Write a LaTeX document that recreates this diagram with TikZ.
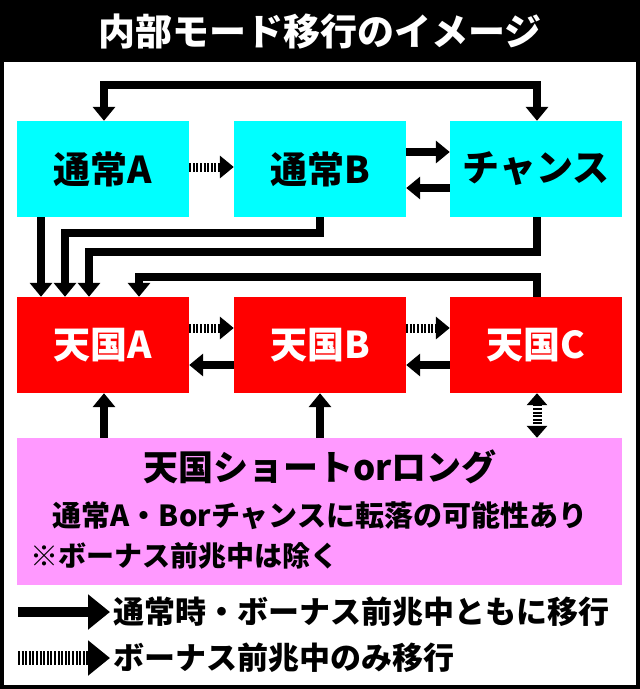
\documentclass[tikz,border=0pt]{standalone}
\usepackage{fontspec}
\setmainfont{Noto Sans CJK JP}[BoldFont={Noto Sans CJK JP Black}]
\usetikzlibrary{arrows.meta}
\definecolor{cyb}{RGB}{0,255,255}
\definecolor{rdb}{RGB}{255,0,0}
\definecolor{pkb}{RGB}{255,153,255}
\begin{document}
\begin{tikzpicture}[x=1pt,y=-1pt,
  box/.style={minimum width=172pt,minimum height=96pt,inner sep=0pt,font=\bfseries\fontsize{37}{37}\selectfont},
  cy/.style={box,fill=cyb},
  rd/.style={box,fill=rdb,text=white},
  sol/.style={line width=8pt,-{Triangle[length=14pt,width=22pt]}},
  dot/.style={line width=9pt,dash pattern=on 2pt off 1.6pt,-{Triangle[length=14pt,width=22pt]}},
  lbl/.style={font=\bfseries\fontsize{31}{31}\selectfont,anchor=west,inner sep=0pt}]
\fill[black] (0,0) rectangle (640,689);
\fill[white] (4,62) rectangle (636,685);
\node[text=white,font=\bfseries\fontsize{37}{37}\selectfont] (title) at (320,32) {内部モード移行のイメージ};
\node[cy] (na) at (103,169) {通常A};
\node[cy] (nb) at (320,169) {通常B};
\node[cy] (ch) at (536,169) {チャンス};
\node[rd] (ta) at (103,345) {天国A};
\node[rd] (tb) at (320,345) {天国B};
\node[rd] (tc) at (536,345) {天国C};
\node[fill=pkb,minimum width=605pt,minimum height=147pt,inner sep=0pt] (pk) at (319.5,511.5) {};
\node[font=\bfseries\fontsize{35}{35}\selectfont] (p1) at (320,467) {天国ショートorロング};
\node[font=\bfseries\fontsize{29}{29}\selectfont] (p2) at (320,516) {通常A・Borチャンスに転落の可能性あり};
\node[font=\bfseries\fontsize{28}{28}\selectfont,anchor=west,inner sep=0pt] (p3) at (30,556) {※ボーナス前兆中は除く};
% top loop
\draw[line width=8pt,{Triangle[length=14pt,width=22pt]}-{Triangle[length=14pt,width=22pt]}] (104,0 |- na.north) -- (104,85) -- (537,85) -- (537,0 |- ch.north);
\draw[dot] (na.east |- 0,167) -- (nb.west |- 0,167);
\draw[sol] (nb.east |- 0,152) -- (ch.west |- 0,152);
\draw[sol] (ch.west |- 0,188) -- (nb.east |- 0,188);
% down connectors
\draw[sol] (41,0 |- na.south) -- (41,0 |- ta.north);
\draw[sol] (320,0 |- nb.south) -- (320,233) -- (65,233) -- (65,0 |- ta.north);
\draw[sol] (537,0 |- ch.south) -- (537,252) -- (89,252) -- (89,0 |- ta.north);
\draw[sol] (537,0 |- tc.north) -- (537,277) -- (139,277) -- (139,0 |- ta.north);
% red row
\draw[dot] (ta.east |- 0,328) -- (tb.west |- 0,328);
\draw[dot] (tb.east |- 0,328) -- (tc.west |- 0,328);
\draw[sol] (tb.west |- 0,365) -- (ta.east |- 0,365);
\draw[sol] (tc.west |- 0,365) -- (tb.east |- 0,365);
% from pink
\draw[sol] (104,0 |- pk.north) -- (104,0 |- ta.south);
\draw[sol] (320,0 |- pk.north) -- (320,0 |- tb.south);
\draw[line width=9pt,dash pattern=on 2pt off 1.6pt,{Triangle[length=12pt,width=20pt]}-{Triangle[length=12pt,width=20pt]}] (537,0 |- tc.south) -- (537,0 |- pk.north);
% legend
\coordinate (l1a) at (18,612); \coordinate (l1b) at (110,612);
\coordinate (l2a) at (18,658); \coordinate (l2b) at (110,658);
\draw[line width=10pt,-{Triangle[length=22pt,width=34pt]}] (l1a) -- (l1b);
\draw[line width=14pt,dash pattern=on 2pt off 1.6pt,-{Triangle[length=22pt,width=34pt]}] (l2a) -- (l2b);
\node[lbl] (t1) at (113,612) {通常時・ボーナス前兆中ともに移行};
\node[lbl] (t2) at (113,658) {ボーナス前兆中のみ移行};
\end{tikzpicture}
\end{document}
